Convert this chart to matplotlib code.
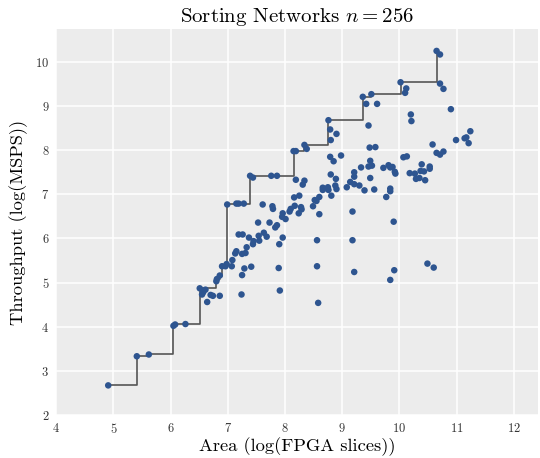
import numpy as np
import matplotlib
matplotlib.use('Agg')
from matplotlib import pyplot as plt

# design points: (log area, log throughput)
area = [
    4.91, 5.41, 5.62, 6.05, 6.08, 6.26, 6.51, 6.55, 6.57, 6.61, 6.64, 6.70, 6.74, 6.86,
    6.80, 6.81, 6.86, 6.90, 6.96, 6.98, 7.07, 7.08, 7.24, 7.25, 7.29, 7.41, 7.13, 7.15,
    7.25, 7.31, 7.33, 7.19, 7.26, 7.37, 7.45, 7.44, 7.54, 7.63, 7.68, 7.55, 7.91, 7.89,
    7.90, 7.96, 7.53, 7.73, 7.86, 7.83, 7.61, 7.78, 7.79, 7.96, 7.95, 8.01, 8.08, 8.10,
    8.17, 8.16, 8.25, 8.28, 8.29, 8.24, 8.49, 8.52, 8.55, 8.60, 8.60, 8.66, 8.66, 8.75,
    8.76, 8.81, 8.80, 8.89, 8.88, 8.90, 8.19, 8.34, 8.31, 8.56, 8.56, 8.58, 9.18, 9.18,
    9.21, 9.90, 9.91, 9.84, 10.49, 10.60,
    6.99, 7.15, 7.19, 7.28, 7.39, 7.44, 7.76, 7.86, 8.15, 8.19, 8.38, 8.34, 8.76, 8.79,
    8.90, 8.80, 8.79, 8.85, 8.98, 9.36, 9.51, 9.42, 9.61, 10.02, 10.10, 10.12, 10.65,
    10.71, 10.71, 10.77, 10.20, 10.21, 10.90, 9.46, 10.99, 11.14, 11.17, 11.21, 11.24,
    10.58, 10.65, 10.71, 10.77, 9.48, 9.58,
    9.14, 9.21, 9.08, 9.30, 9.21, 9.21, 9.33, 9.49, 9.49, 9.46, 9.52, 9.39, 9.56, 9.72,
    9.81, 9.84, 9.88, 9.92, 9.93, 9.84, 9.84, 9.77, 10.18, 10.27, 10.39, 10.37, 10.43,
    10.53, 10.53, 10.29, 10.35, 10.45, 10.07, 10.13,
]
throughput = [
    2.67, 3.33, 3.37, 4.02, 4.05, 4.06, 4.87, 4.73, 4.78, 4.84, 4.56, 4.72, 4.70, 4.70,
    5.03, 5.08, 5.16, 5.37, 5.37, 5.42, 5.37, 5.51, 4.73, 5.17, 5.32, 5.36, 5.66, 5.71,
    5.65, 5.67, 5.80, 6.09, 6.09, 6.02, 5.94, 5.87, 6.06, 6.13, 6.04, 5.95, 4.82, 5.33,
    5.87, 6.02, 6.36, 6.36, 6.30, 6.25, 6.77, 6.73, 6.67, 6.57, 6.49, 6.44, 6.61, 6.67,
    6.74, 6.93, 6.97, 6.71, 6.66, 6.57, 6.73, 6.87, 6.85, 6.94, 6.55, 7.15, 7.10, 7.16,
    7.10, 6.97, 7.45, 7.35, 7.20, 7.12, 7.33, 7.31, 7.22, 5.96, 5.37, 4.54, 6.61, 5.96,
    5.24, 6.38, 5.28, 5.06, 5.43, 5.34,
    6.77, 6.79, 6.79, 6.79, 7.42, 7.38, 7.42, 7.42, 7.98, 7.98, 8.03, 8.12, 8.68, 8.47,
    8.37, 8.23, 7.85, 7.75, 7.88, 9.21, 9.27, 9.05, 9.05, 9.54, 9.30, 9.40, 10.25,
    10.17, 9.51, 9.39, 8.81, 8.66, 8.93, 8.56, 8.23, 8.27, 8.29, 8.16, 8.43,
    8.13, 7.94, 7.90, 7.97, 8.06, 8.07,
    7.28, 7.23, 7.16, 7.20, 7.50, 7.40, 7.61, 7.76, 7.37, 7.63, 7.65, 7.09, 7.11, 7.60,
    7.66, 7.61, 7.62, 7.51, 7.47, 7.13, 7.07, 6.94, 7.48, 7.47, 7.68, 7.53, 7.52,
    7.63, 7.58, 7.35, 7.37, 7.32, 7.84, 7.86,
]

x = np.array(area)
y = np.array(throughput)

# pareto frontier: points that beat every cheaper design
order = np.argsort(x)
fx, fy = [], []
best = -np.inf
for i in order:
    if y[i] > best:
        best = y[i]
        fx.append(x[i])
        fy.append(y[i])

plt.rcParams['font.family'] = 'cmr10'
plt.rcParams['mathtext.fontset'] = 'cm'
plt.rcParams['axes.formatter.use_mathtext'] = True

fig = plt.figure(figsize=(5.4, 4.58), dpi=100)
ax = fig.add_axes([0.104, 0.094, 0.892, 0.842])
ax.set_facecolor('#ECECEC')
for s in ax.spines.values():
    s.set_visible(False)
ax.grid(True, color='white', linewidth=1.1)
ax.set_axisbelow(True)
ax.tick_params(length=0, labelsize=9, colors='#333333', pad=5)

ax.step(fx, fy, where='post', color='#555555', linewidth=1.2, zorder=2)
ax.scatter(x, y, s=22, color='#2E5590', edgecolors='none', zorder=3)

ax.set_xlim(4, 12.42)
ax.set_ylim(2, 10.74)
ax.set_xticks(range(4, 13))
ax.set_yticks(range(2, 11))

ax.set_title(r'Sorting Networks $n = \mathbf{256}$', fontsize=15, pad=5)
ax.set_xlabel('Area (log(FPGA slices))', fontsize=13.3, labelpad=1)
ax.set_ylabel('Throughput (log(MSPS))', fontsize=13.3, labelpad=5)

fig.savefig('out.png', dpi=100)
